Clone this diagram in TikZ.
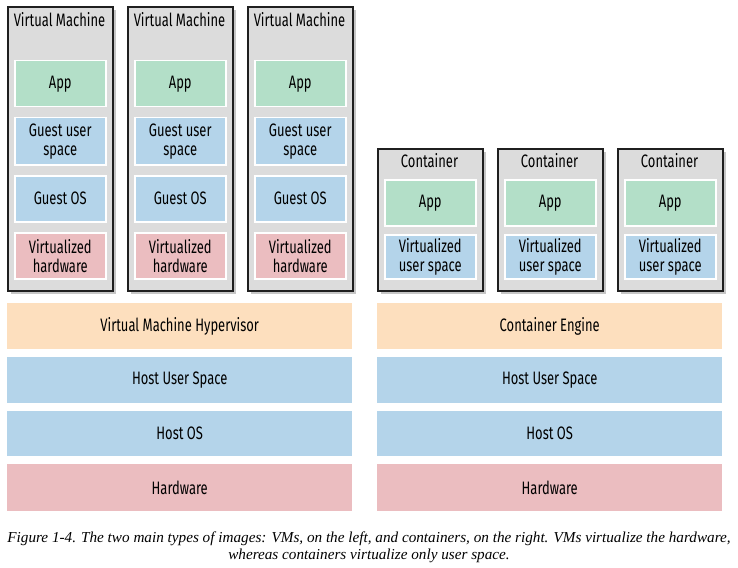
\documentclass[tikz,border=0pt]{standalone}
\usepackage{fontspec}
\setmainfont{Liberation Serif}
\newfontfamily\boxfont{Fira Sans}[FakeStretch=0.72]
\usetikzlibrary{shadows}

\definecolor{shellgray}{HTML}{DCDCDC}
\definecolor{appgreen}{HTML}{B3DFC8}
\definecolor{layerblue}{HTML}{B4D4EA}
\definecolor{hwpink}{HTML}{EBBDC0}
\definecolor{engineorange}{HTML}{FDDFBE}

\tikzset{
  shell/.style={draw=black!88, line width=2.2pt, fill=shellgray, anchor=north west,
    inner sep=0pt, minimum width=105pt,
    drop shadow={shadow xshift=2.5pt, shadow yshift=-2.5pt, opacity=0.45}},
  title/.style={font=\boxfont\fontsize{18}{19}\selectfont, text=black, inner sep=0pt},
  layer/.style={anchor=north west, inner sep=0pt, draw=white, line width=1.5pt,
    minimum width=91pt, align=center, text=black,
    font=\boxfont\fontsize{18}{19}\selectfont},
  bar/.style={anchor=north west, inner sep=0pt, minimum width=345pt, align=center,
    text=black, font=\boxfont\fontsize{18}{19}\selectfont},
}

\begin{document}
\begin{tikzpicture}[x=1pt,y=-1pt]
  \useasboundingbox (0,0) rectangle (738,567);

  % virtual machines
  \foreach \i/\x in {1/7,2/127,3/247}{
    \node[shell, minimum height=284pt] (vm\i) at (\x,6) {};
    \node[title] (vm\i title) at ({\x+52.5},20) {Virtual Machine};
    \node[layer, fill=appgreen,   minimum height=46pt] (vm\i app)  at ({\x+7},60)  {App};
    \node[layer, fill=layerblue,  minimum height=47pt] (vm\i user) at ({\x+7},117) {Guest user\\space};
    \node[layer, fill=layerblue,  minimum height=46pt] (vm\i os)   at ({\x+7},175) {Guest OS};
    \node[layer, fill=hwpink,     minimum height=46pt] (vm\i hw)   at ({\x+7},232) {Virtualized\\hardware};
  }

  % containers
  \foreach \i/\x in {1/377,2/497,3/617}{
    \node[shell, minimum height=142pt] (ct\i) at (\x,148) {};
    \node[title] (ct\i title) at ({\x+52.5},161) {Container};
    \node[layer, fill=appgreen,  minimum height=46pt] (ct\i app)  at ({\x+7},179) {App};
    \node[layer, fill=layerblue, minimum height=44pt] (ct\i user) at ({\x+7},234) {Virtualized\\user space};
  }

  % host stack under the virtual machines
  \node[bar, fill=engineorange, minimum height=46pt] (hyper)  at (7,303) {Virtual Machine Hypervisor};
  \node[bar, fill=layerblue,    minimum height=46pt] (vmhus)  at (7,357) {Host User Space};
  \node[bar, fill=layerblue,    minimum height=45pt] (vmhos)  at (7,411) {Host OS};
  \node[bar, fill=hwpink,       minimum height=47pt] (vmhw)   at (7,464) {Hardware};

  % host stack under the containers
  \node[bar, fill=engineorange, minimum height=46pt] (engine) at (377,303) {Container Engine};
  \node[bar, fill=layerblue,    minimum height=46pt] (cthus)  at (377,357) {Host User Space};
  \node[bar, fill=layerblue,    minimum height=45pt] (cthos)  at (377,411) {Host OS};
  \node[bar, fill=hwpink,       minimum height=47pt] (cthw)   at (377,464) {Hardware};

  % caption
  \node[align=center, inner sep=0pt, font=\itshape\fontsize{15.2}{17}\selectfont] (caption) at (369,547)
    {Figure 1-4. The two main types of images: VMs, on the left, and containers, on the right. VMs virtualize the hardware,\\
     whereas containers virtualize only user space.};
\end{tikzpicture}
\end{document}
